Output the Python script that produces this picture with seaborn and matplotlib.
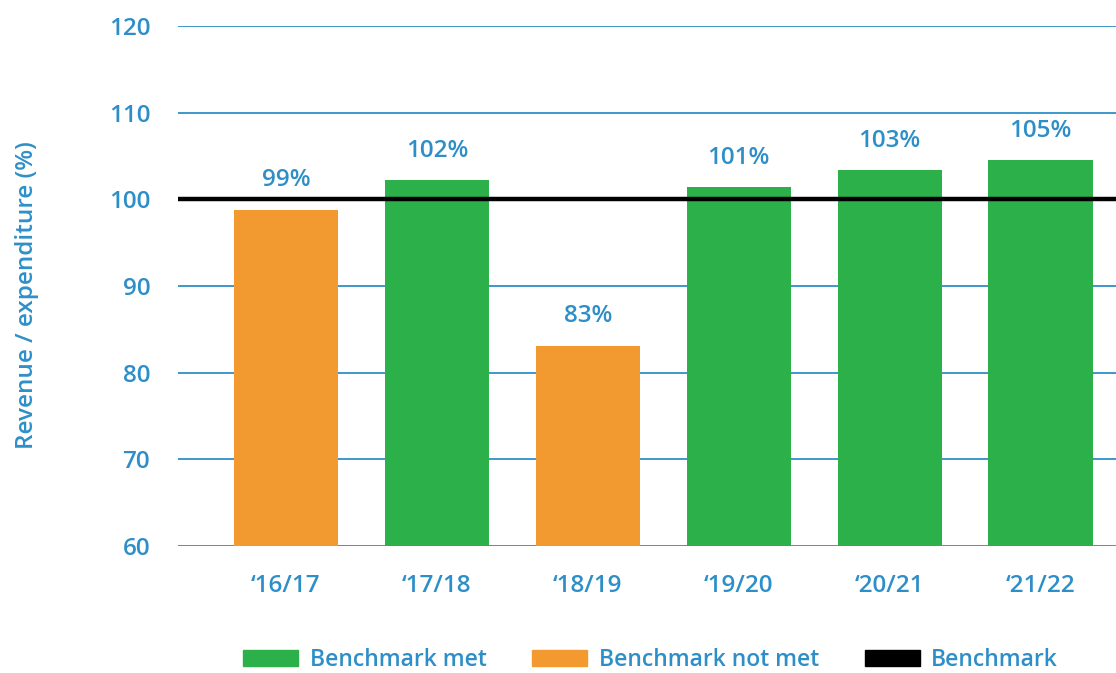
import numpy as np
import pandas as pd
import matplotlib
matplotlib.use("Agg")
import matplotlib.pyplot as plt
import seaborn as sns
from matplotlib.patches import Patch

years = ["\u201816/17", "\u201817/18", "\u201818/19", "\u201819/20", "\u201820/21", "\u201821/22"]
values = [98.8, 102.2, 83.1, 101.4, 103.4, 104.5]
labels = ["99%", "102%", "83%", "101%", "103%", "105%"]
status = ["Benchmark not met", "Benchmark met", "Benchmark not met",
          "Benchmark met", "Benchmark met", "Benchmark met"]
benchmark = 100
yticks = [60, 70, 80, 90, 100, 110, 120]

green = "#2bb04a"
orange = "#f29a30"
blue = "#2e8fc8"

sns.set_style("white")
plt.rcParams['font.family'] = ['Open Sans', 'DejaVu Sans']

df = pd.DataFrame({"year": years, "value": values, "status": status})

fig = plt.figure(figsize=(11.16, 6.73), dpi=100)
ax = fig.add_axes([0.1595, 0.1887, 0.8405, 0.7727])

sns.barplot(data=df, x="year", y="value", hue="status", dodge=False,
            palette={"Benchmark met": green, "Benchmark not met": orange},
            saturation=1, linewidth=0, width=0.69, ax=ax, legend=False, zorder=2)

ax.set_ylim(60, 120)
ax.set_xlim(-0.715, 5.5)
ax.set_yticks(yticks)
for y in yticks:
    ax.axhline(y, color=blue, lw=1.3, zorder=1)
ax.axhline(benchmark, color="black", lw=3.2, zorder=3)

for i, (v, lab) in enumerate(zip(values, labels)):
    ax.text(i, v + 2.0, lab, ha="center", va="bottom", color=blue,
            fontsize=17.5, fontweight="semibold")

for s in ax.spines.values():
    s.set_visible(False)
ax.tick_params(axis="both", length=0, labelsize=17.5, labelcolor=blue)
ax.tick_params(axis="y", pad=20)
ax.tick_params(axis="x", pad=20)
for t in ax.get_xticklabels() + ax.get_yticklabels():
    t.set_fontweight("semibold")
ax.set_xlabel("")
ax.set_ylabel("Revenue / expenditure (%)", color=blue, fontsize=17.5,
              fontweight="semibold")
ax.yaxis.set_label_coords(-0.148, 0.483)

handles = [Patch(color=green, label="Benchmark met"),
           Patch(color=orange, label="Benchmark not met"),
           Patch(color="black", label="Benchmark")]
leg = fig.legend(handles=handles, loc="center", bbox_to_anchor=(0.583, 0.019),
                 ncol=3, frameon=False, fontsize=16.5, handlelength=2.4,
                 handleheight=0.7, columnspacing=2.0, handletextpad=0.5)
for t in leg.get_texts():
    t.set_color(blue)
    t.set_fontweight("semibold")

fig.savefig("out.png", dpi=100)
